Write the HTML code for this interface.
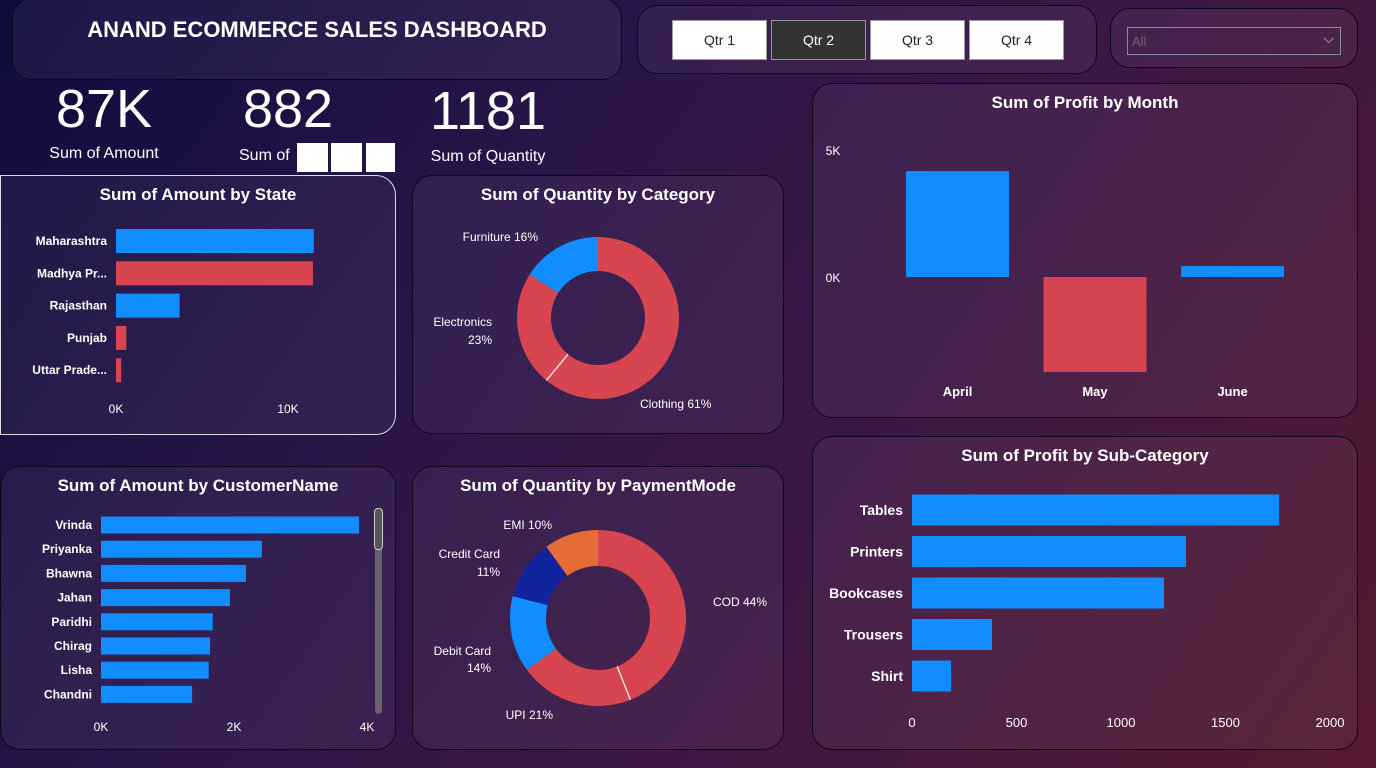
<!DOCTYPE html>
<html><head><meta charset="utf-8"><style>
*{margin:0;padding:0;box-sizing:border-box}
body{width:1376px;height:768px;overflow:hidden;font-family:"Liberation Sans",sans-serif;color:#fff;
background:linear-gradient(125deg,#0f0b3e 0%,#2a1548 35%,#3b1745 60%,#55192f 100%);position:relative}
.p{position:absolute;border-radius:20px;border:1px solid #0c0a18;background:rgba(255,255,255,0.05)}
.t{position:absolute;left:0;right:0;text-align:center;font-weight:bold;font-size:17px}
.btn{position:absolute;top:20px;width:95px;height:40px;background:#fff;color:#222;border:1px solid #999;font-size:14px;text-align:center;line-height:38px}
.kv{position:absolute;font-family:"Liberation Sans Narrow","Liberation Sans",sans-serif;font-size:54px;text-align:center;width:200px}
.kl{position:absolute;font-size:16px;text-align:center;width:200px;font-family:"Liberation Sans Narrow","Liberation Sans",sans-serif}
svg{position:absolute;left:0;top:0}
</style></head><body>
<div class="p" style="left:12px;top:-2px;width:610px;height:82px"><div class="t" style="top:18px;font-size:22px">ANAND ECOMMERCE SALES DASHBOARD</div></div>
<div class="p" style="left:637px;top:5px;width:460px;height:69px"></div>
<div class="btn" style="left:672px">Qtr 1</div>
<div class="btn" style="left:771px;background:#333;color:#fff">Qtr 2</div>
<div class="btn" style="left:870px">Qtr 3</div>
<div class="btn" style="left:969px">Qtr 4</div>
<div class="p" style="left:1110px;top:8px;width:248px;height:60px"></div>
<div style="position:absolute;left:1127px;top:27px;width:214px;height:28px;border:1px solid #8a8a9a;font-size:13px;color:#666;padding:6px 4px">All<span style="position:absolute;right:6px;top:2px;color:#bbb;font-size:14px">&#x2335;</span></div>
<div class="kv" style="left:4px;top:78px">87K</div>
<div class="kl" style="left:4px;top:145px">Sum of Amount</div>
<div class="kv" style="left:188px;top:78px">882</div>
<div class="kl" style="left:180px;top:147px;text-align:left;padding-left:59px">Sum of</div>
<div style="position:absolute;left:297px;top:143px;width:31px;height:29px;background:#fff"></div>
<div style="position:absolute;left:331px;top:143px;width:31px;height:29px;background:#fff"></div>
<div style="position:absolute;left:366px;top:143px;width:29px;height:29px;background:#fff"></div>
<div class="kv" style="left:388px;top:80px">1181</div>
<div class="kl" style="left:388px;top:148px">Sum of Quantity</div>

<div class="p" style="left:0;top:175px;width:396px;height:260px;border:1px solid #ddd;border-radius:0 20px 20px 0"><div class="t" style="top:9px">Sum of Amount by State</div></div>
<div class="p" style="left:412px;top:175px;width:372px;height:259px"><div class="t" style="top:9px">Sum of Quantity by Category</div></div>
<div class="p" style="left:812px;top:83px;width:546px;height:335px"><div class="t" style="top:9px">Sum of Profit by Month</div></div>
<div class="p" style="left:0;top:466px;width:396px;height:284px"><div class="t" style="top:9px">Sum of Amount by CustomerName</div></div>
<div class="p" style="left:412px;top:466px;width:372px;height:284px"><div class="t" style="top:9px">Sum of Quantity by PaymentMode</div></div>
<div class="p" style="left:812px;top:436px;width:546px;height:314px"><div class="t" style="top:9px">Sum of Profit by Sub-Category</div></div>
<div style="position:absolute;left:375px;top:508px;width:7px;height:206px;background:#6a6070;border-radius:4px"></div>
<div style="position:absolute;left:374px;top:508px;width:9px;height:42px;border:1px solid #ccc;border-radius:4px;background:#555"></div>

<svg id="s" width="1376" height="768"></svg>
<script>
const stateCats=["Maharashtra","Madhya Pr...","Rajasthan","Punjab","Uttar Prade..."];
const stateVals=[11.5,11.45,3.7,0.6,0.3];
const stateTicks=[0,10];
const custCats=["Vrinda","Priyanka","Bhawna","Jahan","Paridhi","Chirag","Lisha","Chandni"];
const custVals=[3.88,2.42,2.18,1.94,1.68,1.64,1.62,1.37];
const custTicks=[0,2,4];
const monthCats=["April","May","June"];
const monthVals=[4.17,-3.74,0.43];
const monthTicks=[0,5];
const subCats=["Tables","Printers","Bookcases","Trousers","Shirt"];
const subVals=[1756,1311,1206,383,187];
const subTicks=[0,500,1000,1500,2000];
const catNames=["Clothing","Electronics","Furniture"];
const catVals=[61,23,16];
const payNames=["COD","UPI","Debit Card","Credit Card","EMI"];
const payVals=[44,21,14,11,10];

const s=document.getElementById('s'),NS="http://www.w3.org/2000/svg";
const BLUE="#118dff",RED="#d64550";
const stateColors=[BLUE,RED,BLUE,RED,RED];
function el(t,a,txt){const e=document.createElementNS(NS,t);for(const k in a)e.setAttribute(k,a[k]);if(txt!==undefined)e.textContent=txt;s.appendChild(e);return e;}
function txt(x,y,t,anchor,size,bold){return el('text',{x:x,y:y,'text-anchor':anchor,'font-size':size,'font-weight':bold?'bold':'normal',fill:'#fff','font-family':'Liberation Sans, sans-serif'},t);}

{const x0=116,sc=17.2;
stateCats.forEach((c,i)=>{const y=241+i*32.3;
const r=el('rect',{x:x0,y:y-12,width:stateVals[i]*sc,height:24,fill:stateColors[i]});

txt(107,y+4,c,'end',12,true);});
stateTicks.forEach(t=>txt(x0+t*sc,413,t+'K','middle',12));}

{const x0=101,sc=66.5;
custCats.forEach((c,i)=>{const y=525+i*24.2;
const r=el('rect',{x:x0,y:y-8.5,width:custVals[i]*sc,height:17,fill:BLUE});

txt(92,y+4,c,'end',12,true);});
custTicks.forEach(t=>txt(x0+t*sc,731,t+'K','middle',12));}

{const y0=277,sc=25.4;
monthCats.forEach((c,i)=>{const x=906+i*137.5,v=monthVals[i];
const r=el('rect',{x:x,y:v>=0?y0-v*sc:y0,width:103,height:Math.abs(v)*sc,fill:v>=0?BLUE:RED});

txt(x+51.5,396,c,'middle',13,true);});
monthTicks.forEach(t=>txt(833,y0-t*sc+5,t+'K','middle',12));}

{const x0=912,sc=0.209;
subCats.forEach((c,i)=>{const y=510+i*41.5;
const r=el('rect',{x:x0,y:y-15.5,width:subVals[i]*sc,height:31,fill:BLUE});

txt(903,y+5,c,'end',14,true);});
subTicks.forEach(t=>txt(x0+t*sc,727,t,'middle',13));}

function donut(cx,cy,R,r0,vals,colors,name){
const tot=vals.reduce((a,b)=>a+b,0);let a=0;
vals.forEach((v,i)=>{const a1=a+v/tot*2*Math.PI;
const P=(ang,rr)=>[cx+rr*Math.sin(ang),cy-rr*Math.cos(ang)];
const [x1,y1]=P(a,R),[x2,y2]=P(a1,R),[x3,y3]=P(a1,r0),[x4,y4]=P(a,r0);const lg=(a1-a)>Math.PI?1:0;
const p=el('path',{d:`M${x1},${y1}A${R},${R} 0 ${lg} 1 ${x2},${y2}L${x3},${y3}A${r0},${r0} 0 ${lg} 0 ${x4},${y4}Z`,fill:colors[i]});

a=a1;});}
{donut(598,318,81,47,catVals,[RED,RED,BLUE],'category-slice');
const a=catVals[0]/100*2*Math.PI;el('line',{x1:598+47*Math.sin(a),y1:318-47*Math.cos(a),x2:598+81*Math.sin(a),y2:318-81*Math.cos(a),stroke:'#fff','stroke-width':1.2});
txt(640,408,catNames[0]+' '+catVals[0]+'%','start',12);
txt(492,326,catNames[1],'end',12);txt(492,344,catVals[1]+'%','end',12);
txt(538,241,catNames[2]+' '+catVals[2]+'%','end',12);}
{donut(598,618,88,52,payVals,[RED,RED,BLUE,'#12239e','#e66c37'],'payment-slice');
const a=payVals[0]/100*2*Math.PI;el('line',{x1:598+52*Math.sin(a),y1:618-52*Math.cos(a),x2:598+88*Math.sin(a),y2:618-88*Math.cos(a),stroke:'#fff','stroke-width':1.2});
txt(713,606,payNames[0]+' '+payVals[0]+'%','start',12);
txt(553,719,payNames[1]+' '+payVals[1]+'%','end',12);
txt(491,655,payNames[2],'end',12);txt(491,672,payVals[2]+'%','end',12);
txt(500,558,payNames[3],'end',12);txt(500,576,payVals[3]+'%','end',12);
txt(552,529,payNames[4]+' '+payVals[4]+'%','end',12);}
</script>
</body></html>
